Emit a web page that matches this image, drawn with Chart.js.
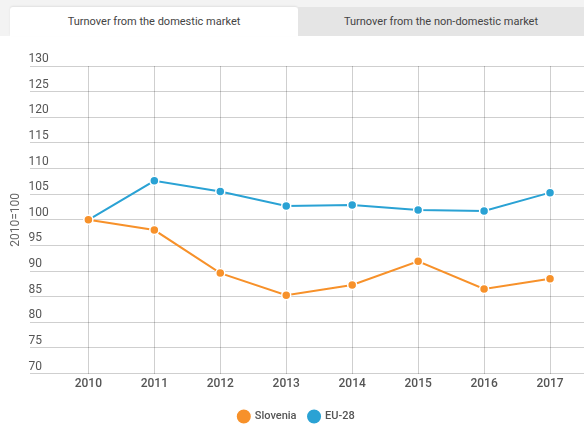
<!DOCTYPE html>
<html>
<head>
<meta charset="utf-8">
<script src="https://cdn.jsdelivr.net/npm/chart.js@4"></script>
<style>
  body { margin: 0; background: #fff; font-family: Roboto, sans-serif; }
  #tabs { position: absolute; left: 0; top: 0; width: 584px; height: 36px; background: #f3f3f3; }
  .tab { position: absolute; top: 7px; height: 29px; line-height: 29px; text-align: center; font-size: 11px; color: #444; }
  #tab1 { left: 10px; width: 288px; background: #fff; border-radius: 3px 3px 0 0; box-shadow: 0 -1px 2px rgba(0,0,0,0.08); }
  #tab2 { left: 298px; width: 286px; background: #e5e5e5; }
  #wrap { position: absolute; left: 0; top: 36px; width: 584px; height: 394px; }
</style>
</head>
<body>
<div id="tabs">
  <div class="tab" id="tab1">Turnover from the domestic market</div>
  <div class="tab" id="tab2">Turnover from the non-domestic market</div>
</div>
<div id="wrap"><canvas id="chart"></canvas></div>
<script>
// years and index values (2010=100)
var years = [2010, 2011, 2012, 2013, 2014, 2015, 2016, 2017];
var slovenia = [100, 98.0, 89.6, 85.3, 87.3, 91.9, 86.5, 88.5];
var eu28 = [100, 107.6, 105.5, 102.7, 102.9, 101.9, 101.7, 105.3];
var seriesNames = ['Slovenia', 'EU-28'];
var seriesColors = ['#f7912a', '#2aa2d4'];

function toPoints(vals) {
    return years.map(function(y, i) { return { x: y, y: vals[i] }; });
}

function makeSet(i, vals) {
    return {
        label: seriesNames[i],
        data: toPoints(vals),
        borderColor: seriesColors[i],
        backgroundColor: seriesColors[i],
        borderWidth: 2,
        pointRadius: 4.5,
        pointBorderColor: '#fff',
        pointBorderWidth: 1.5,
        tension: 0
    };
}

var ctx = document.getElementById('chart').getContext('2d');
var chart = new Chart(ctx, {
    type: 'line',
    data: {
        datasets: [makeSet(0, slovenia), makeSet(1, eu28)]
    },
    options: {
        responsive: true,
        maintainAspectRatio: false,
        animation: false,
        layout: { autoPadding: false, padding: { left: 9, top: 30, right: 0, bottom: -2 } },
        plugins: {
            tooltip: { enabled: false },
            legend: {
                position: 'bottom',
                labels: {
                    usePointStyle: true,
                    pointStyle: 'circle',
                    boxWidth: 13,
                    boxHeight: 13,
                    padding: 12,
                    color: '#555',
                    font: { family: 'Roboto', size: 11, weight: '500' }
                }
            }
        },
        scales: {
            x: {
                type: 'linear',
                min: 2009.121,
                max: 2017.515,
                afterBuildTicks: function(axis) {
                    axis.ticks = years.map(function(y) { return { value: y }; });
                },
                afterFit: function(axis) {
                    axis.paddingLeft = 0;
                    axis.paddingRight = 0;
                    axis.height += 5;
                },
                grid: { color: 'rgba(0,0,0,0.19)', drawTicks: false },
                border: { display: false },
                ticks: {
                    padding: 3,
                    color: '#555',
                    font: { family: 'Roboto', size: 12, weight: '500' },
                    callback: function(v) { return String(v); }
                }
            },
            y: {
                min: 70,
                max: 130,
                grid: { color: 'rgba(0,0,0,0.19)', drawTicks: false },
                border: { display: false },
                ticks: {
                    stepSize: 5,
                    mirror: true,
                    padding: -2,
                    labelOffset: -7,
                    color: '#555',
                    font: { family: 'Roboto', size: 12 }
                },
                title: {
                    display: true,
                    text: '2010=100',
                    color: '#666',
                    padding: { top: 0, bottom: 11 },
                    font: { family: 'Roboto', size: 12 }
                }
            }
        }
    }
});
</script>
</body>
</html>
